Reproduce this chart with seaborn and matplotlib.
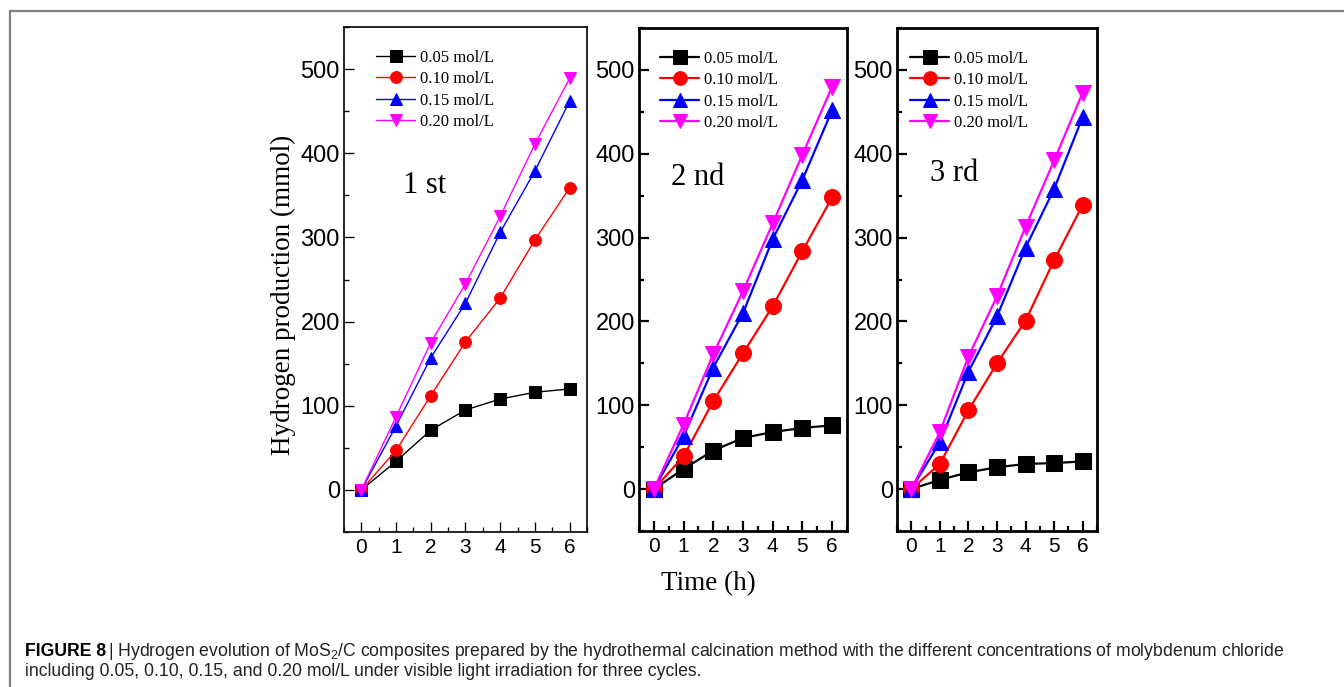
import matplotlib
matplotlib.use("Agg")
import matplotlib.pyplot as plt
from matplotlib.ticker import MultipleLocator
from matplotlib.patches import Rectangle
import seaborn as sns
import pandas as pd

sns.set_theme(style="white")
plt.rcParams['font.family'] = ['Liberation Sans', 'DejaVu Sans']
plt.rcParams['mathtext.fontset'] = 'custom'
plt.rcParams['mathtext.rm'] = 'Liberation Sans'

# ---------------- data ----------------
time_h = [0, 1, 2, 3, 4, 5, 6]
series_labels = ["0.05 mol/L", "0.10 mol/L", "0.15 mol/L", "0.20 mol/L"]
cycle_labels = ["1 st", "2 nd", "3 rd"]

c1_005 = [0, 34, 71, 95, 108, 116, 120]
c1_010 = [0, 47, 112, 176, 228, 297, 359]
c1_015 = [0, 76, 157, 222, 306, 379, 462]
c1_020 = [0, 87, 175, 245, 325, 411, 489]

c2_005 = [0, 24, 46, 61, 68, 73, 76]
c2_010 = [0, 39, 105, 162, 218, 284, 348]
c2_015 = [0, 63, 145, 210, 298, 369, 452]
c2_020 = [0, 77, 161, 236, 317, 399, 480]

c3_005 = [0, 11, 20, 26, 30, 31, 33]
c3_010 = [0, 30, 94, 150, 201, 273, 339]
c3_015 = [0, 56, 140, 206, 288, 358, 444]
c3_020 = [0, 68, 158, 230, 313, 392, 473]

cycles = [[c1_005, c1_010, c1_015, c1_020],
          [c2_005, c2_010, c2_015, c2_020],
          [c3_005, c3_010, c3_015, c3_020]]

colors = ["#000000", "#ff0000", "#0000ff", "#ff00ff"]
markers = ["s", "o", "^", "v"]

W, H = 1344, 687
fig = plt.figure(figsize=(W / 100, H / 100), dpi=100)
fig.patch.set_facecolor("white")

# frame
fig.patches.append(Rectangle((10 / W, -0.1), 2.0, (H - 11) / H + 0.1,
                             transform=fig.transFigure, fill=False,
                             edgecolor="#7f7f7f", linewidth=1.6))

# panel geometry in pixels (left, right, top, bottom)
boxes = [(344, 587, 27, 532), (639, 847, 28, 531), (897, 1097, 28, 531)]
lw_line = [1.0, 1.6, 1.6]
msize = [8.5, 11.5, 11.5]
spine_w = [1.2, 2.0, 2.0]
leg_x = [(376 - 344) / 243, (660 - 639) / 208, (910 - 897) / 200]
ann_pos = [(0.33, 0.687), (0.284, 0.702), (0.285, 0.71)]

serif = ['Liberation Serif', 'DejaVu Serif']

for i, (l, r, t, b) in enumerate(boxes):
    ax = fig.add_axes([l / W, (H - b) / H, (r - l) / W, (b - t) / H])
    for j in range(4):
        df = pd.DataFrame({"t": time_h, "v": cycles[i][j]})
        sns.lineplot(data=df, x="t", y="v", ax=ax, color=colors[j],
                     marker=markers[j], markersize=msize[i],
                     markeredgecolor=colors[j], markerfacecolor=colors[j],
                     linewidth=lw_line[i], label=series_labels[j])
    ax.set_xlim(-0.5, 6.5)
    ax.set_ylim(-50, 550)
    ax.set_xlabel("")
    ax.set_ylabel("")
    ax.xaxis.set_major_locator(MultipleLocator(1))
    ax.xaxis.set_minor_locator(MultipleLocator(0.5))
    ax.yaxis.set_major_locator(MultipleLocator(100))
    ax.yaxis.set_minor_locator(MultipleLocator(50))
    ax.tick_params(which="both", direction="in", color="black",
                   width=spine_w[i] * 0.8, bottom=True, left=True,
                   top=False, right=False)
    ax.tick_params(which="major", length=7)
    ax.tick_params(which="minor", length=3.5)
    ax.tick_params(axis="x", which="major", labelsize=15, pad=4)
    ax.tick_params(axis="y", which="major", labelsize=17, pad=3)
    for lab in ax.get_xticklabels() + ax.get_yticklabels():
        lab.set_color("black")
    for s in ax.spines.values():
        s.set_color("black")
        s.set_linewidth(spine_w[i])
    ax.grid(False)
    leg = ax.legend(loc="upper left", bbox_to_anchor=(leg_x[i], 0.955),
                    borderaxespad=0, borderpad=0, frameon=False,
                    handlelength=2.35, handletextpad=0.3, labelspacing=0.33,
                    markerscale=0.85 if i else 1.0,
                    prop={"family": serif, "size": 12})
    for txt in leg.get_texts():
        txt.set_color("black")
    ax.text(ann_pos[i][0], ann_pos[i][1], cycle_labels[i], transform=ax.transAxes,
            ha="center", va="center", fontsize=22, family=serif, color="black")

fig.text(283 / W, (H - 295) / H, "Hydrogen production (mmol)", rotation=90,
         ha="center", va="center", fontsize=19.5, family=serif, color="black")
fig.text(708 / W, (H - 584) / H, "Time (h)", ha="center", va="center",
         fontsize=19.5, family=serif, color="black")

# caption
cap_fs = 12.7
renderer = fig.canvas.get_renderer()
t1 = fig.text(25 / W, (H - 651) / H, "FIGURE 8", fontsize=cap_fs, weight="bold",
              ha="left", va="center", color="black")
bb = t1.get_window_extent(renderer=renderer)
fig.text((bb.x1 + 2) / W, (H - 651) / H,
         "| Hydrogen evolution of MoS$_2$/C composites prepared by the hydrothermal calcination method "
         "with the different concentrations of molybdenum chloride",
         fontsize=cap_fs, ha="left", va="center", color="#222222")
fig.text(25 / W, (H - 672) / H,
         "including 0.05, 0.10, 0.15, and 0.20 mol/L under visible light irradiation for three cycles.",
         fontsize=cap_fs, ha="left", va="center", color="#222222")

fig.savefig("out.png", dpi=100)
